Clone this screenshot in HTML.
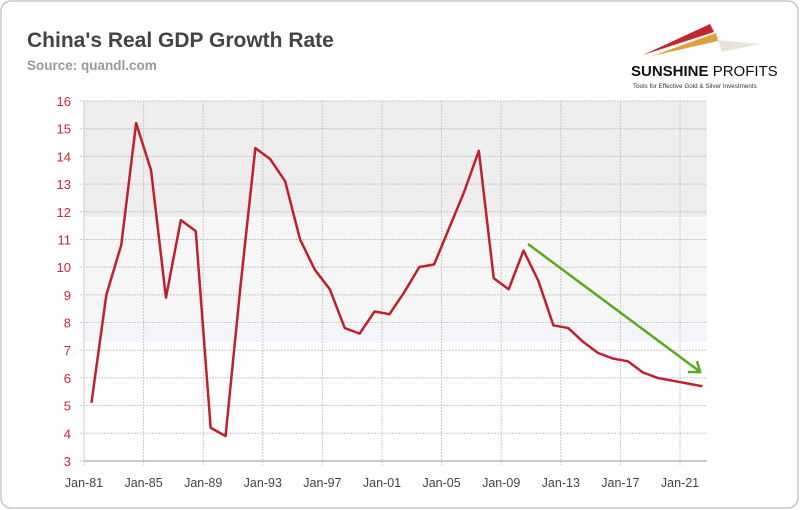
<!DOCTYPE html>
<html><head><meta charset="utf-8"><style>
body{margin:0;background:#fff;font-family:"Liberation Sans",sans-serif}
#wrap{position:relative;width:800px;height:510px;overflow:hidden}
</style></head><body>
<div id="wrap">
<svg id="svg" width="800" height="510" xmlns="http://www.w3.org/2000/svg">
<rect x="1" y="1" width="797" height="507" rx="10" fill="#fff" stroke="#c8c8c8" stroke-width="1.5"/>
<text x="27" y="47" font-size="21" font-weight="bold" fill="#444">China's Real GDP Growth Rate</text>
<text x="27" y="70" font-size="13.5" font-weight="bold" fill="#999">Source: quandl.com</text>
<g>
<polygon points="643,55 710,24 714,32" fill="#c0272d"/>
<polygon points="652,56 716,33 718,41" fill="#e0a040"/>
<polygon points="718,40 760,44 722,52" fill="#e8e4d8"/>
<text x="631" y="76" font-size="15" font-weight="bold" fill="#111">SUNSHINE <tspan font-weight="normal">PROFITS</tspan></text>
<text x="633" y="88" font-size="6.3" fill="#333">Tools for Effective Gold &amp; Silver Investments</text>
</g>
<g id="plot"></g>
</svg>
</div>
<script>
const years=[1981,1982,1983,1984,1985,1986,1987,1988,1989,1990,1991,1992,1993,1994,1995,1996,1997,1998,1999,2000,2001,2002,2003,2004,2005,2006,2007,2008,2009,2010,2011,2012,2013,2014,2015,2016,2017,2018,2019,2020,2021,2022];
const gdp=[5.1,9.0,10.8,15.2,13.5,8.9,11.7,11.3,4.2,3.9,9.3,14.3,13.9,13.1,11.0,9.9,9.2,7.8,7.6,8.4,8.3,9.1,10.0,10.1,11.4,12.7,14.2,9.6,9.2,10.6,9.5,7.9,7.8,7.3,6.9,6.7,6.6,6.2,6.0,5.9,5.8,5.7];
const yTicks=[3,4,5,6,7,8,9,10,11,12,13,14,15,16];
const xTickYears=[1981,1985,1989,1993,1997,2001,2005,2009,2013,2017,2021];
const xTickLabels=["Jan-81","Jan-85","Jan-89","Jan-93","Jan-97","Jan-01","Jan-05","Jan-09","Jan-13","Jan-17","Jan-21"];
const X0=84,X1=707,Y0=461,Y1=101;
const xs=t=>X0+(t-1981)*14.9;
const ys=v=>Y0-(v-3)*(Y0-Y1)/13;
const NS="http://www.w3.org/2000/svg";
const g=document.getElementById('plot');
function mk(tag,attrs){const e=document.createElementNS(NS,tag);for(const k in attrs)e.setAttribute(k,attrs[k]);g.appendChild(e);return e;}
let e;
e=mk('rect',{x:X0,y:ys(16),width:X1-X0,height:ys(11.8)-ys(16),fill:'#eeeeee'});


e=mk('rect',{x:X0,y:ys(11.75),width:X1-X0,height:ys(8.0)-ys(11.75),fill:'#f6f6f6'});


e=mk('rect',{x:X0,y:ys(7.95),width:X1-X0,height:ys(7.3)-ys(7.95),fill:'#f4f5fb'});


yTicks.forEach(v=>{
 e=mk('line',{x1:X0-4,x2:X1,y1:ys(v),y2:ys(v),stroke:'#c8c8c8','stroke-dasharray':'2,1'});
 
 
 e=mk('text',{x:X0-13,y:ys(v)+5,'text-anchor':'end','font-size':'13',fill:'#c8283a'});
 e.textContent=v;
 
 
});
xTickYears.forEach((t,i)=>{
 e=mk('line',{x1:xs(t),x2:xs(t),y1:Y1,y2:Y0+4,stroke:'#c8c8c8','stroke-dasharray':'2,1'});
 
 
 e=mk('text',{x:xs(t),y:Y0+26,'text-anchor':'middle','font-size':'12.5',fill:'#444'});
 e.textContent=xTickLabels[i];
 
 
});
e=mk('line',{x1:X0,x2:X1,y1:Y0,y2:Y0,stroke:'#bbb','stroke-width':1.5});


e=mk('line',{x1:X0,x2:X0,y1:Y1,y2:Y0,stroke:'#ccc'});


e=mk('polyline',{points:years.map((t,i)=>xs(t+0.5)+','+ys(gdp[i])).join(' '),fill:'none',stroke:'#c0202e','stroke-width':2.5,'stroke-linejoin':'round'});


e=mk('line',{x1:528,y1:244,x2:699,y2:371,stroke:'#5aaa1e','stroke-width':2.5});


e=mk('polyline',{points:'688,372 700,372 697,361',fill:'none',stroke:'#5aaa1e','stroke-width':2.5});


</script>
</body></html>
